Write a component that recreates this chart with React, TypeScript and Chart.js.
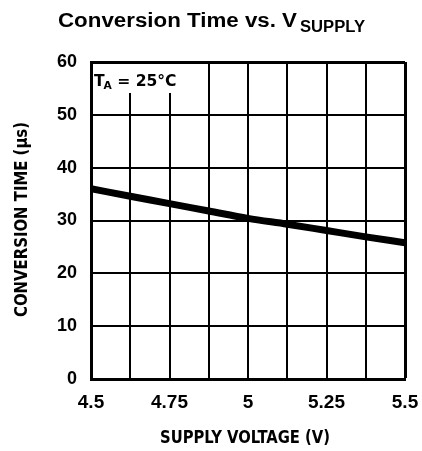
import React, { useEffect, useRef } from "react";
import { Chart, registerables } from "chart.js";

Chart.register(...registerables);

const SUPPLY_VOLTAGE = [4.5, 4.625, 4.75, 4.875, 5.0, 5.125, 5.25, 5.375, 5.5];
const CONVERSION_TIME = [36.0, 34.6, 33.2, 31.8, 30.4, 29.3, 28.1, 26.9, 25.8];
const X_TICK_LABELS = ["4.5", "4.75", "5", "5.25", "5.5"];
const Y_MIN = 0;
const Y_MAX = 60;
const Y_STEP = 10;
const X_MIN = 4.5;
const X_MAX = 5.5;
const X_GRID_STEP = 0.125;

const TITLE_MAIN = "Conversion Time vs. V";
const TITLE_SUB = "SUPPLY";
const X_TITLE = "SUPPLY VOLTAGE (V)";
const Y_TITLE = "CONVERSION TIME (\u00b5s)";

function fitText(ctx: CanvasRenderingContext2D, text: string, x: number, y: number, width: number) {
  const w = ctx.measureText(text).width;
  ctx.save();
  ctx.translate(x, y);
  ctx.scale(width / w, 1);
  ctx.fillText(text, 0, 0);
  ctx.restore();
}

const NARROW = "'Liberation Sans Narrow', 'DejaVu Sans Condensed', sans-serif";

const textPlugin = {
  id: "textPlugin",
  beforeDatasetsDraw(chart: any) {
    const ctx = chart.ctx as CanvasRenderingContext2D;
    const a = chart.chartArea;
    ctx.save();
    ctx.fillStyle = "#fff";
    ctx.fillRect(a.left + 2, a.top + 2, 92, 29);
    ctx.fillStyle = "#000";
    ctx.textBaseline = "alphabetic";
    ctx.textAlign = "left";
    ctx.save();
    ctx.translate(94, 86);
    ctx.scale(1.08, 1);
    ctx.font = "bold 16px " + NARROW;
    ctx.fillText("T", 0, 0);
    const tw = ctx.measureText("T").width;
    ctx.font = "bold 11px " + NARROW;
    ctx.fillText("A", tw - 1, 3);
    const aw = ctx.measureText("A").width;
    ctx.font = "bold 16px " + NARROW;
    ctx.fillText(" = 25\u00b0C", tw + aw - 1, 0);
    ctx.restore();
    ctx.restore();
  },
  afterDraw(chart: any) {
    const ctx = chart.ctx as CanvasRenderingContext2D;
    ctx.save();
    ctx.fillStyle = "#000";
    ctx.textBaseline = "alphabetic";
    ctx.textAlign = "left";
    ctx.font = "bold 20px 'Liberation Sans', Arial, sans-serif";
    fitText(ctx, TITLE_MAIN, 58, 27, 239);
    ctx.font = "bold 16px 'Liberation Sans', Arial, sans-serif";
    fitText(ctx, TITLE_SUB, 300, 32, 65);
    ctx.font = "bold 18px " + NARROW;
    fitText(ctx, X_TITLE, 160, 443, 170);
    ctx.save();
    ctx.translate(27, 317);
    ctx.rotate(-Math.PI / 2);
    fitText(ctx, Y_TITLE, 0, 0, 195);
    ctx.restore();
    ctx.restore();
  },
};

export default function App() {
  const ref = useRef<HTMLCanvasElement | null>(null);
  useEffect(() => {
    if (!ref.current) return;
    const yTickCount = (Y_MAX - Y_MIN) / Y_STEP;
    const xTickCount = Math.round((X_MAX - X_MIN) / X_GRID_STEP);
    const chart = new Chart(ref.current, {
      type: "line",
      data: {
        datasets: [
          {
            data: SUPPLY_VOLTAGE.map((x, i) => ({ x, y: CONVERSION_TIME[i] })),
            borderColor: "#000",
            borderWidth: 7,
            pointRadius: 0,
            cubicInterpolationMode: "monotone",
            fill: false,
          },
        ],
      },
      options: {
        animation: false,
        responsive: false,
        devicePixelRatio: 1,
        layout: { padding: { top: 62, right: 17, left: 0, bottom: 0 } },
        plugins: { legend: { display: false }, title: { display: false }, tooltip: { enabled: false } },
        scales: {
          x: {
            type: "linear",
            min: X_MIN,
            max: X_MAX,
            afterFit: (s: any) => {
              s.height = 72;
              s.paddingLeft = 0;
              s.paddingRight = 0;
            },
            ticks: {
              stepSize: X_GRID_STEP,
              autoSkip: false,
              maxRotation: 0,
              padding: 12,
              color: "#000",
              font: { family: "'Liberation Sans', Arial, sans-serif", size: 19, weight: "bold" },
              callback: (_v: any, i: number) => (i % 2 === 0 ? X_TICK_LABELS[i / 2] : ""),
            },
            grid: {
              color: "#000",
              lineWidth: (c: any) => (c.index === xTickCount ? 3 : 2),
              drawTicks: false,
            },
            border: { display: true, color: "#000", width: 3 },
          },
          y: {
            type: "linear",
            min: Y_MIN,
            max: Y_MAX,
            afterFit: (s: any) => {
              s.width = 91;
              s.paddingTop = 0;
              s.paddingBottom = 0;
            },
            ticks: {
              stepSize: Y_STEP,
              padding: 14,
              color: "#000",
              font: { family: "'Liberation Sans', Arial, sans-serif", size: 18, weight: "bold" },
            },
            grid: {
              color: "#000",
              lineWidth: (c: any) => (c.index === yTickCount ? 3 : 2),
              drawTicks: false,
            },
            border: { display: true, color: "#000", width: 3 },
          },
        },
      },
      plugins: [textPlugin],
    } as any);
    return () => chart.destroy();
  }, []);
  return (
    <div style={{ position: "fixed", left: 0, top: 0, width: 422, height: 451, background: "#fff" }}>
      <canvas ref={ref} width={422} height={451} style={{ width: 422, height: 451 }} />
    </div>
  );
}
